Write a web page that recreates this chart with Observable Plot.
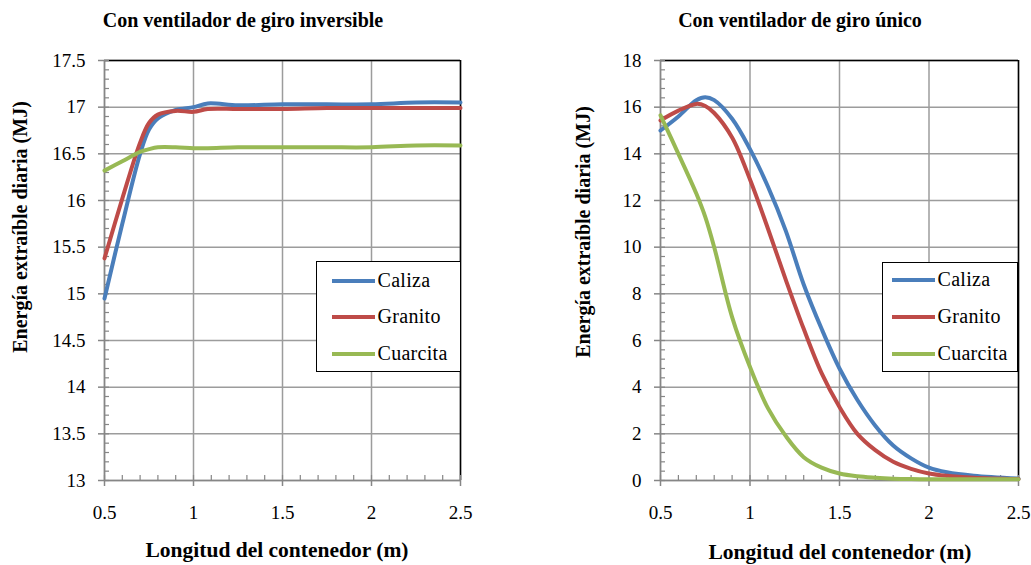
<!DOCTYPE html>
<html>
<head>
<meta charset="utf-8">
<script src="https://cdn.jsdelivr.net/npm/d3@7"></script>
<script src="https://cdn.jsdelivr.net/npm/@observablehq/plot@0.6"></script>
<style>
  html, body { margin: 0; padding: 0; background: #fff; }
  #root { position: relative; width: 1031px; height: 565px; background: #fff; color: #000; overflow: hidden; }
  #root, #root div, #root span { font-family: 'Liberation Serif', 'Times New Roman', serif !important; }
  #root svg text { font-family: 'Liberation Serif', 'Times New Roman', serif !important; }
  .chart { position: absolute; top: 0; }
  .lbl { position: absolute; white-space: nowrap; font-weight: bold; transform: translate(-50%, -50%); }
  .ylbl { position: absolute; white-space: nowrap; font-weight: bold; transform: translate(-50%, -50%) rotate(-90deg); }
  .legend { position: absolute; background: #fff; border: 1.5px solid #000; box-sizing: border-box; }
  .item { position: absolute; left: 0; height: 24px; display: flex; align-items: center; font-size: 20px; letter-spacing: 0.3px; }
  .sw { display: inline-block; width: 43px; height: 4px; margin-right: 3px; }
</style>
</head>
<body>
<div id="root"></div>
<script>
// ---------- Data ----------
const seriesNames = ["Caliza", "Granito", "Cuarcita"];
const seriesColors = ["#4A7EBB", "#BE4B48", "#98B954"];

// Left chart: Con ventilador de giro inversible
const leftTitle = "Con ventilador de giro inversible";
const leftX = [0.5, 0.6, 0.7, 0.75, 0.8, 0.9, 1.0, 1.08, 1.25, 1.5, 1.75, 2.0, 2.25, 2.5];
const leftCaliza   = [14.95, 15.75, 16.5, 16.76, 16.88, 16.97, 17.0, 17.04, 17.02, 17.03, 17.03, 17.03, 17.05, 17.05];
const leftGranito  = [15.38, 16.02, 16.62, 16.83, 16.92, 16.96, 16.95, 16.98, 16.98, 16.98, 16.99, 16.99, 16.99, 16.99];
const leftCuarcita = [16.32, 16.42, 16.52, 16.55, 16.57, 16.57, 16.56, 16.56, 16.57, 16.57, 16.57, 16.57, 16.59, 16.59];
const leftYTicks = [13, 13.5, 14, 14.5, 15, 15.5, 16, 16.5, 17, 17.5];

// Right chart: Con ventilador de giro único
const rightTitle = "Con ventilador de giro único";
const rightX = [0.5, 0.6, 0.7, 0.75, 0.8, 0.9, 1.0, 1.1, 1.2, 1.3, 1.4, 1.5, 1.6, 1.7, 1.8, 1.9, 2.0, 2.1, 2.25, 2.5];
const rightCaliza   = [15.0, 15.6, 16.3, 16.43, 16.3, 15.5, 14.2, 12.6, 10.7, 8.4, 6.5, 4.8, 3.45, 2.35, 1.5, 0.95, 0.55, 0.35, 0.2, 0.08];
const rightGranito  = [15.43, 15.85, 16.14, 16.05, 15.75, 14.7, 12.9, 10.8, 8.6, 6.5, 4.6, 3.15, 2.0, 1.3, 0.8, 0.5, 0.3, 0.2, 0.12, 0.06];
const rightCuarcita = [15.65, 14.0, 12.3, 11.3, 10.0, 7.0, 4.86, 3.1, 1.9, 1.0, 0.55, 0.3, 0.18, 0.12, 0.08, 0.06, 0.05, 0.05, 0.05, 0.05];
const rightYTicks = [0, 2, 4, 6, 8, 10, 12, 14, 16, 18];

const xTicks = [0.5, 1, 1.5, 2, 2.5];
const xLabel = "Longitud del contenedor (m)";
const yLabel = "Energía extraíble diaria (MJ)";

// minor tick positions (derived from the major ticks)
const xMinor = d3.range(0, 21).map(i => +(0.5 + i * 0.1).toFixed(2));
const leftYMinor = d3.range(0, 46).map(i => +(13 + i * 0.1).toFixed(2));
const rightYMinor = d3.range(0, 46).map(i => +(i * 0.4).toFixed(2));

function toRows(xs, cols) {
  const rows = [];
  cols.forEach((vals, k) => vals.forEach((v, i) => rows.push({x: xs[i], y: v, s: seriesNames[k]})));
  return rows;
}

const FONT = "'Liberation Serif', 'Times New Roman', serif";

function makeChart({rows, yTicks, yMinor, width, marginLeft, marginRight}) {
  const yDom = [yTicks[0], yTicks[yTicks.length - 1]];
  const xDom = [xTicks[0], xTicks[xTicks.length - 1]];
  const grid = "#9c9c9c";
  const axisC = "#868686";
  return Plot.plot({
    width, height: 565,
    marginLeft, marginRight, marginTop: 60, marginBottom: 85,
    style: {fontFamily: FONT, fontSize: "19px", background: "transparent", color: "#000", overflow: "visible"},
    x: {domain: xDom, type: "linear"},
    y: {domain: yDom, type: "linear"},
    color: {domain: seriesNames, range: seriesColors},
    marks: [
      Plot.gridX(xTicks, {stroke: grid, strokeOpacity: 1, strokeWidth: 1.5}),
      Plot.gridY(yTicks, {stroke: grid, strokeOpacity: 1, strokeWidth: 1.5}),
      Plot.ruleY([yDom[1]], {stroke: "#000", strokeWidth: 1.5}),
      Plot.ruleX([xDom[1]], {stroke: "#000", strokeWidth: 1.5}),
      Plot.ruleX([xDom[0]], {stroke: axisC, strokeWidth: 1.5}),
      Plot.ruleY([yDom[0]], {stroke: axisC, strokeWidth: 1.5}),
      Plot.axisX(xTicks, {anchor: "bottom", tickSize: 6, tickPadding: 19, stroke: axisC, strokeWidth: 1.5, fill: "#000", fontSize: 19, fontFamily: FONT, tickFormat: d => String(d), label: null}),
      Plot.axisX(xMinor, {anchor: "bottom", tickSize: 5, dy: -5, stroke: axisC, strokeWidth: 1.2, tickFormat: () => "", label: null}),
      Plot.axisY(yTicks, {anchor: "left", tickSize: 6, tickPadding: 13, stroke: axisC, strokeWidth: 1.5, fill: "#000", fontSize: 19, fontFamily: FONT, tickFormat: d => String(d), label: null}),
      Plot.axisY(yMinor, {anchor: "left", tickSize: 5, dx: 5, stroke: axisC, strokeWidth: 1.2, tickFormat: () => "", label: null}),
      Plot.line(rows, {x: "x", y: "y", z: "s", stroke: "s", strokeWidth: 4, curve: "catmull-rom"})
    ]
  });
}

const root = document.getElementById("root");

const left = makeChart({
  rows: toRows(leftX, [leftCaliza, leftGranito, leftCuarcita]),
  yTicks: leftYTicks, yMinor: leftYMinor,
  width: 515, marginLeft: 104, marginRight: 55
});
left.classList.add("chart"); left.style.left = "0px";
root.appendChild(left);

const right = makeChart({
  rows: toRows(rightX, [rightCaliza, rightGranito, rightCuarcita]),
  yTicks: rightYTicks, yMinor: rightYMinor,
  width: 516, marginLeft: 145, marginRight: 13
});
right.classList.add("chart"); right.style.left = "515px";
root.appendChild(right);

function addText(cls, text, x, y, size) {
  const d = document.createElement("div");
  d.className = cls;
  d.textContent = text;
  d.style.left = x + "px";
  d.style.top = y + "px";
  d.style.fontSize = size + "px";
  root.appendChild(d);
  return d;
}
addText("lbl", leftTitle, 243, 20, 20);
addText("lbl", rightTitle, 800, 20, 20);
addText("lbl", xLabel, 277, 550, 21.5);
addText("lbl", xLabel, 840, 552, 21.5);
addText("ylbl", yLabel, 20, 227, 20);
addText("ylbl", yLabel, 583, 232, 20);

function addLegend(x, y, w, h, lineX, rowYs) {
  const box = document.createElement("div");
  box.className = "legend";
  box.style.left = x + "px"; box.style.top = y + "px";
  box.style.width = w + "px"; box.style.height = h + "px";
  seriesNames.forEach((name, i) => {
    const it = document.createElement("div");
    it.className = "item";
    it.style.left = (lineX - x - 1.5) + "px";
    it.style.top = (rowYs[i] - y - 1.5 - 12) + "px";
    const sw = document.createElement("span");
    sw.className = "sw";
    sw.style.background = seriesColors[i];
    it.appendChild(sw);
    it.appendChild(document.createTextNode(name));
    box.appendChild(it);
  });
  root.appendChild(box);
}
addLegend(316, 261, 145, 111, 332, [281, 317, 354]);
addLegend(882, 262, 136, 110, 892, [280, 317, 354]);
</script>
</body>
</html>
